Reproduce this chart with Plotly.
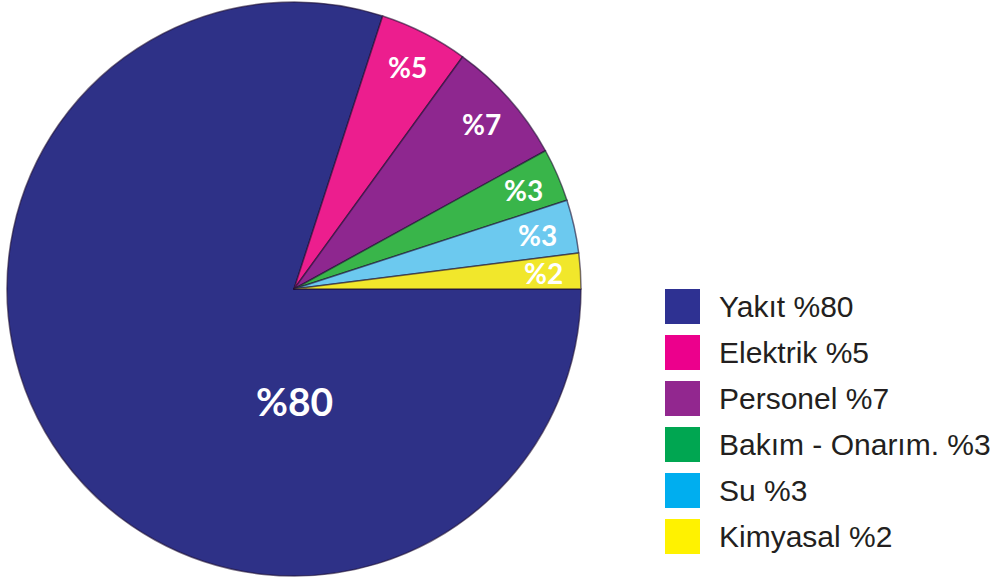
import math
import plotly.graph_objects as go

# ---- data ----
categories = ["Yakıt", "Elektrik", "Personel", "Bakım - Onarım.", "Su", "Kimyasal"]
shares = [80, 5, 7, 3, 3, 2]
slice_labels = ["%80", "%5", "%7", "%3", "%3", "%2"]
legend_labels = ["Yakıt %80", "Elektrik %5", "Personel %7", "Bakım - Onarım. %3", "Su %3", "Kimyasal %2"]

# ---- style ----
W, H = 992, 582
slice_colors = ["#2E3187", "#EC1E8E", "#8E278F", "#39B54A", "#6CC9EF", "#F1E72B"]
legend_colors = ["#2E3192", "#EC008C", "#92278F", "#00A651", "#00AEEF", "#FFF200"]
cx, cy, R = 294, 289, 287
rotation = 90
label_r_frac = 0.87
big_label = {"angle": 180, "r_frac": 0.39}
label_font = "Lato, 'Open Sans', sans-serif"
legend_font = "'Liberation Sans', Arial, sans-serif"
leg_x0, leg_y0, leg_step, leg_sq = 665, 289, 46, 35
leg_text_x = 717

fig = go.Figure()
fig.add_trace(go.Pie(
    labels=categories,
    values=shares,
    sort=False,
    direction="clockwise",
    rotation=rotation,
    marker=dict(colors=slice_colors, line=dict(color="rgba(30,15,50,0.6)", width=1.5)),
    textinfo="none",
    hoverinfo="label+percent",
    domain=dict(x=[(cx - R) / W, (cx + R) / W], y=[1 - (cy + R) / H, 1 - (cy - R) / H]),
    showlegend=False,
))

annotations = []
shapes = []
total = sum(shares)
cum = 0
for i, (v, lab) in enumerate(zip(shares, slice_labels)):
    mid = rotation + 360.0 * (cum + v / 2) / total
    cum += v
    if v == max(shares):
        ang, r, size = big_label["angle"], big_label["r_frac"] * R, 39
    else:
        ang, r, size = mid, label_r_frac * R, 28
    px = cx + r * math.sin(math.radians(ang))
    py = cy - r * math.cos(math.radians(ang))
    annotations.append(dict(
        x=px / W, y=1 - py / H, xref="paper", yref="paper",
        text=f"<b>{lab}</b>", showarrow=False,
        font=dict(family=label_font, size=size, color="white"),
        xanchor="center", yanchor="middle",
    ))

for i, (lab, col) in enumerate(zip(legend_labels, legend_colors)):
    y0 = leg_y0 + i * leg_step
    shapes.append(dict(
        type="rect", xref="paper", yref="paper",
        x0=leg_x0 / W, x1=(leg_x0 + leg_sq) / W,
        y0=1 - (y0 + leg_sq) / H, y1=1 - y0 / H,
        fillcolor=col, line=dict(width=0),
    ))
    annotations.append(dict(
        x=leg_text_x / W, y=1 - (y0 + leg_sq / 2) / H, xref="paper", yref="paper",
        text=lab, showarrow=False,
        font=dict(family=legend_font, size=30, color="#231F20"),
        xanchor="left", yanchor="middle",
    ))

fig.update_layout(
    width=W, height=H,
    margin=dict(l=0, r=0, t=0, b=0),
    paper_bgcolor="white", plot_bgcolor="white",
    annotations=annotations, shapes=shapes,
)
fig.write_html(
    "out.html",
    config={"displayModeBar": False},
    post_script="document.body.style.margin='0';document.body.style.overflow='hidden';",
)
